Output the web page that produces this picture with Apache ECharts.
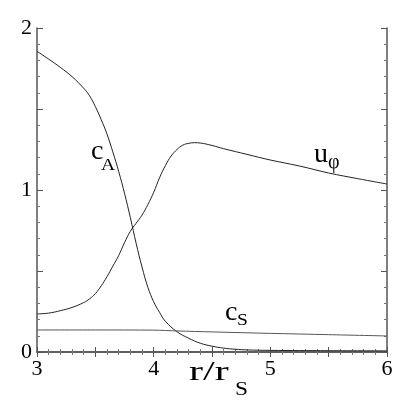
<!DOCTYPE html>
<html>
<head>
<meta charset="utf-8">
<script src="https://cdn.jsdelivr.net/npm/echarts@6/dist/echarts.min.js"></script>
<style>html,body{margin:0;padding:0;background:#fff;}#c{width:415px;height:402px;}</style>
</head>
<body>
<div id="c"></div>
<script>
var cAx = [3.0,3.1,3.2,3.3,3.4,3.45,3.5,3.55,3.6,3.65,3.7,3.75,3.8,3.85,3.9,3.95,4.0,4.05,4.1,4.2,4.3,4.4,4.5,4.6,4.7,4.8,5.0,5.5,6.0];
var cAy = [1.856,1.808,1.757,1.70,1.628,1.582,1.515,1.435,1.345,1.235,1.115,0.98,0.83,0.67,0.525,0.40,0.31,0.245,0.19,0.125,0.085,0.054,0.036,0.024,0.017,0.013,0.010,0.008,0.007];
var uPhiX = [3.0,3.1,3.2,3.3,3.4,3.45,3.5,3.55,3.6,3.65,3.7,3.75,3.8,3.85,3.9,3.95,4.0,4.05,4.1,4.15,4.2,4.25,4.3,4.35,4.4,4.5,4.6,4.8,5.0,5.25,5.5,5.75,6.0];
var uPhiY = [0.235,0.24,0.255,0.275,0.305,0.328,0.36,0.408,0.465,0.53,0.595,0.675,0.745,0.795,0.845,0.91,0.985,1.075,1.15,1.21,1.25,1.277,1.288,1.292,1.29,1.275,1.255,1.22,1.185,1.148,1.105,1.07,1.037];
var cSx = [3.0,3.5,4.0,4.2,4.5,5.0,5.5,6.0];
var cSy = [0.136,0.136,0.135,0.130,0.124,0.115,0.107,0.099];
var xTicks = [3,4,5,6];
var yTicks = [0,1,2];

function pairs(xs, ys){ return xs.map(function(x,i){ return [x, ys[i]]; }); }

var FONT = 'Liberation Serif';
var chart = echarts.init(document.getElementById('c'));
var axisLine = {show:true, lineStyle:{color:'#555', width:1.5}};
function xAxisCfg(pos, labels){
  return {type:'value', position:pos, min:3, max:6, interval:0.5,
    axisLine:axisLine, splitLine:{show:false},
    axisTick:{show:true, inside:true, length:5, lineStyle:{color:'#555'}},
    minorTick:{show:true, splitNumber:5, length:3, lineStyle:{color:'#777'}},
    axisLabel:{show:labels, margin:6, color:'#000', fontFamily:FONT, fontSize:22,
      formatter:function(v){ return xTicks.indexOf(v) >= 0 ? String(v) : ''; }}};
}
function yAxisCfg(pos, labels){
  return {type:'value', position:pos, min:0, max:2, interval:0.5,
    axisLine:axisLine, splitLine:{show:false},
    axisTick:{show:true, inside:true, length:6, lineStyle:{color:'#555'}},
    minorTick:{show:true, splitNumber:5, length:3, lineStyle:{color:'#777'}},
    axisLabel:{show:labels, margin:5, color:'#000', fontFamily:FONT, fontSize:22,
      formatter:function(v){ return yTicks.indexOf(v) >= 0 ? String(v) : ''; }}};
}
function txt(t, x, y, size, sx){
  return {type:'text', x:x, y:y, scaleX: sx || 1, silent:true,
    style:{text:t, fontFamily:FONT, fontSize:size, fill:'#000', align:'left', verticalAlign:'middle'}};
}
chart.setOption({
  animation:false,
  grid:{left:37, right:28, top:28, bottom:50},
  xAxis:[xAxisCfg('bottom', true), xAxisCfg('top', false)],
  yAxis:[yAxisCfg('left', true), yAxisCfg('right', false)],
  series:[
    {type:'line', data:pairs(cAx,cAy), smooth:0.4, showSymbol:false, lineStyle:{color:'#222', width:1}},
    {type:'line', data:pairs(uPhiX,uPhiY), smooth:0.4, showSymbol:false, lineStyle:{color:'#222', width:1}},
    {type:'line', data:pairs(cSx,cSy), smooth:0.3, showSymbol:false, lineStyle:{color:'#555', width:1}}
  ],
  graphic:[
    txt('c', 91, 152, 28), txt('A', 101, 166, 17, 1.15),
    txt('u', 314, 155, 28), txt('\u03C6', 328, 163, 20),
    txt('c', 225, 313, 28), txt('S', 237, 321, 17, 1.15),
    txt('r/r', 189, 373, 28, 1.5), txt('S', 235, 390, 18, 1.3)
  ]
});
</script>
</body>
</html>
